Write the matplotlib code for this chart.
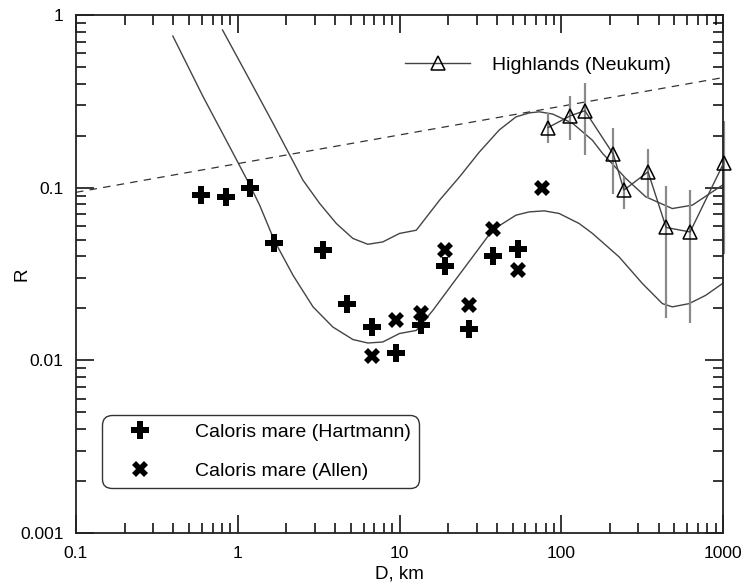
import matplotlib
matplotlib.use("Agg")
import matplotlib.pyplot as plt
from matplotlib.lines import Line2D
from matplotlib.ticker import LogLocator, FixedFormatter, FixedLocator, NullFormatter

plt.rcParams['font.family'] = ['Liberation Sans', 'DejaVu Sans']

# Caloris mare, Hartmann counts (D in km, R)
hart_d = [0.595, 0.84, 1.19, 1.68, 3.36, 4.76, 6.73, 9.51, 13.5, 19.0, 26.9, 38.1, 53.8]
hart_r = [0.0905, 0.088, 0.100, 0.0477, 0.0434, 0.0211, 0.0155, 0.0111, 0.0160,
          0.0351, 0.0151, 0.040, 0.044]

# Caloris mare, Allen counts
allen_d = [6.73, 9.51, 13.5, 19.0, 26.9, 38.1, 53.8, 76.1]
allen_r = [0.0106, 0.0172, 0.0187, 0.0434, 0.0208, 0.0575, 0.0332, 0.099]

# Highlands (Neukum) with error bar ends
high_d = [83, 114, 140, 210, 244, 344, 445, 626, 1010]
high_r = [0.223, 0.261, 0.279, 0.156, 0.0968, 0.1235, 0.0588, 0.0554, 0.139]
high_lo = [0.182, 0.190, 0.154, 0.0925, 0.0757, 0.0866, 0.0177, 0.0164, 0.0415]
high_hi = [0.269, 0.339, 0.405, 0.223, 0.1155, 0.167, 0.102, 0.0968, 0.244]

# lower model curve
low_d = [0.397, 0.611, 0.914, 1.197, 1.367, 1.69, 2.2, 2.92, 3.87, 5.15, 6.37, 7.88,
         10.0, 12.7, 16.1, 21.3, 28.3, 37.7, 52.5, 63.4, 78.5, 97, 129, 156, 228,
         318, 422, 486, 617, 782, 990]
low_r = [0.755, 0.336, 0.165, 0.102, 0.079, 0.049, 0.031, 0.0204, 0.0156, 0.0132,
         0.0126, 0.01277, 0.0143, 0.0149, 0.0195, 0.0278, 0.0397, 0.057, 0.0693,
         0.0724, 0.0734, 0.0709, 0.062, 0.0543, 0.0397, 0.0278, 0.0213, 0.0204,
         0.0213, 0.0238, 0.0278]

# upper model curve
up_d = [0.805, 1.186, 1.652, 2.0, 2.53, 3.21, 4.07, 5.15, 6.37, 7.88, 10.0, 12.7,
        17.7, 23.5, 31.2, 41.4, 52.5, 63.4, 73.1, 88.4, 117.5, 156, 180, 251,
        333, 486, 646, 990]
up_r = [0.819, 0.42, 0.236, 0.168, 0.1105, 0.081, 0.062, 0.0508, 0.0470, 0.0485,
        0.0543, 0.0567, 0.0847, 0.1155, 0.161, 0.216, 0.257, 0.271, 0.275,
        0.267, 0.236, 0.188, 0.158, 0.113, 0.0885, 0.0757, 0.0792, 0.1033]

# dashed reference line
sat_d = [0.1, 1000]
sat_r = [0.094, 0.434]

fig = plt.figure(figsize=(7.47, 5.85), dpi=100)
ax = fig.add_axes([76 / 747, 52 / 585, 647 / 747, 518 / 585])

curve_col = '#444444'
ax.plot(low_d, low_r, color=curve_col, lw=1.0)
ax.plot(up_d, up_r, color=curve_col, lw=1.0)
ax.plot(sat_d, sat_r, color='#333333', lw=0.9, dashes=(6, 5))

# highlands with error bars
ax.vlines(high_d, high_lo, high_hi, color='#8a8a8a', lw=1.6, clip_on=False, zorder=2)
ax.plot(high_d, high_r, color=curve_col, lw=1.0, marker='^', ms=10,
        mfc='none', mec='black', mew=1.1, clip_on=False, zorder=3)

ax.plot(hart_d, hart_r, ls='none', marker='P', ms=13, color='black', mew=0)
ax.plot(allen_d, allen_r, ls='none', marker='X', ms=12, color='black', mew=0)

ax.set_xscale('log')
ax.set_yscale('log')
ax.set_xlim(0.1, 1000)
ax.set_ylim(0.001, 1)

ax.xaxis.set_major_locator(FixedLocator([0.1, 1, 10, 100, 1000]))
ax.xaxis.set_major_formatter(FixedFormatter(['0.1', '1', '10', '100', '1000']))
ax.yaxis.set_major_locator(FixedLocator([0.001, 0.01, 0.1, 1]))
ax.yaxis.set_major_formatter(FixedFormatter(['0.001', '0.01', '0.1', '1']))
for a in (ax.xaxis, ax.yaxis):
    a.set_minor_locator(LogLocator(base=10, subs=range(2, 10)))
    a.set_minor_formatter(NullFormatter())

ax.tick_params(which='both', direction='in', top=True, right=True, width=1.1,
               colors='black', labelsize=12.5, pad=9)
ax.tick_params(which='major', length=13)
ax.tick_params(which='minor', length=7)
for s in ax.spines.values():
    s.set_linewidth(1.3)
    s.set_color('#222222')

ax.set_xlabel('D, km', fontsize=13.5)
ax.xaxis.set_label_coords(0.5, -0.062)
ax.set_ylabel('R', fontsize=13.5, va='center')
ax.yaxis.set_label_coords(-0.0835, 0.5)

# legends
h_high = Line2D([], [], color=curve_col, lw=1.0, marker='^', ms=10, mfc='none',
                mec='black', mew=1.1)
leg1 = ax.legend([h_high], ['Highlands (Neukum)'], loc='center left',
                 bbox_to_anchor=(0.5085, 0.9035), borderaxespad=0, frameon=False,
                 borderpad=0, handlelength=3.35, handletextpad=1.15, fontsize=14)
ax.add_artist(leg1)

h_hart = Line2D([], [], ls='none', marker='P', ms=13, color='black', mew=0)
h_allen = Line2D([], [], ls='none', marker='X', ms=12, color='black', mew=0)
leg2 = ax.legend([h_hart, h_allen], ['Caloris mare (Hartmann)', 'Caloris mare (Allen)'],
                 loc='lower left', bbox_to_anchor=(0.0406, 0.0863), borderaxespad=0,
                 fontsize=14, borderpad=0.42, handlelength=3.09, handletextpad=1.27,
                 labelspacing=1.1, fancybox=True, framealpha=1, edgecolor='#333333')
leg2.get_frame().set_boxstyle('round', pad=0, rounding_size=0.5)
leg2.get_frame().set_linewidth(1.0)

fig.savefig('out.png', dpi=100)
